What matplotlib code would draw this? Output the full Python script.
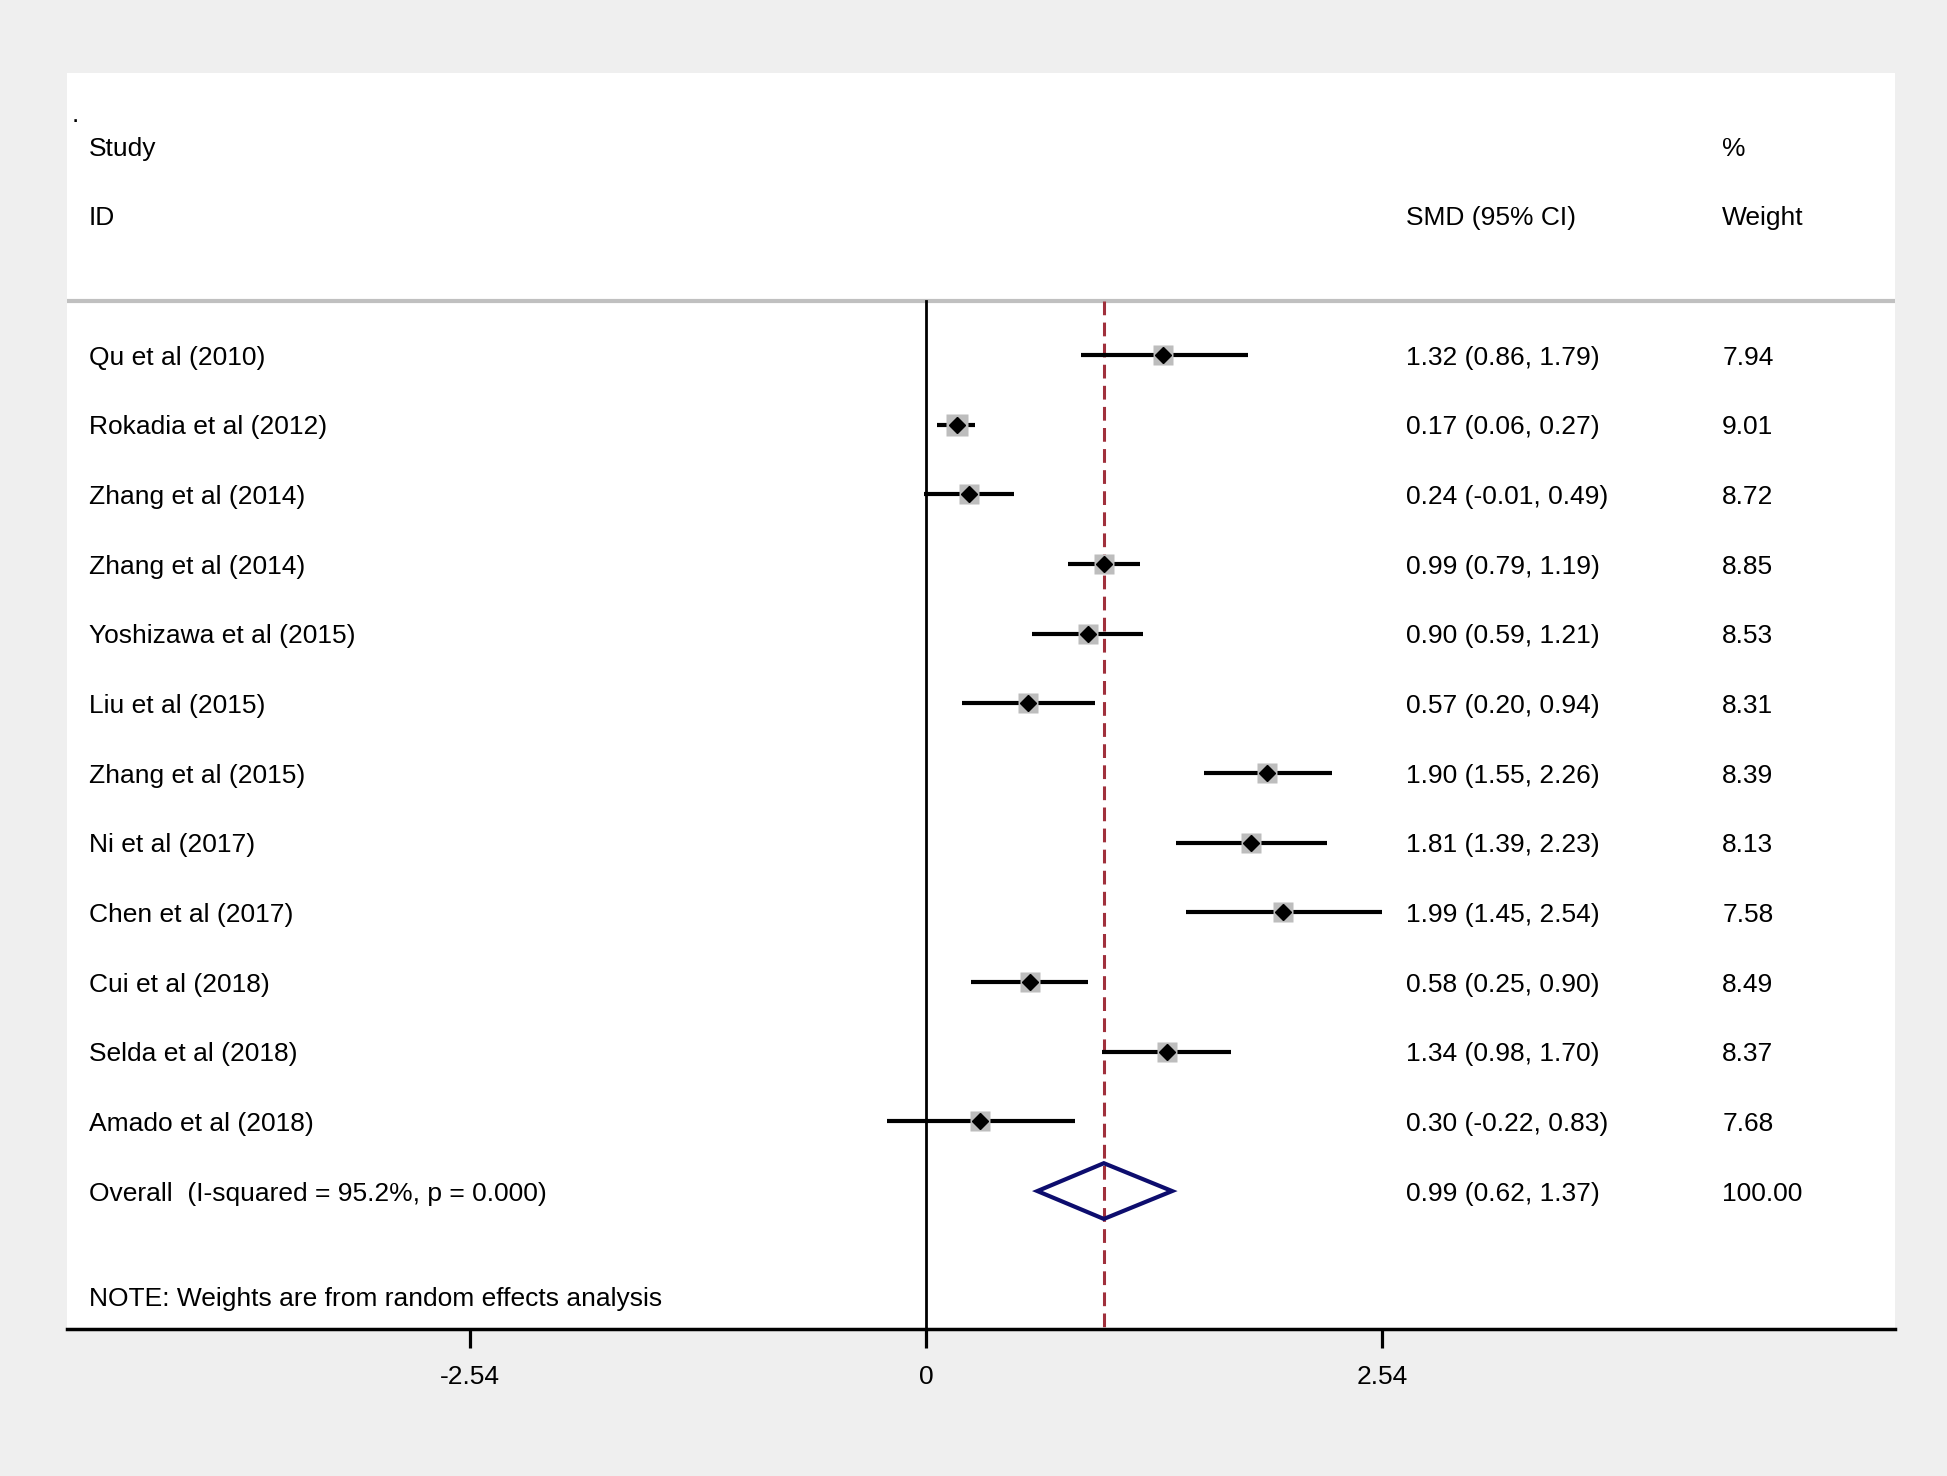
import numpy as np
import matplotlib
matplotlib.use("Agg")
import matplotlib.pyplot as plt
from matplotlib.patches import Polygon

# ── Data ──────────────────────────────────────────────────────────────────────
studies = [
    "Qu et al (2010)", "Rokadia et al (2012)", "Zhang et al (2014)",
    "Zhang et al (2014)", "Yoshizawa et al (2015)", "Liu et al (2015)",
    "Zhang et al (2015)", "Ni et al (2017)", "Chen et al (2017)",
    "Cui et al (2018)", "Selda et al (2018)", "Amado et al (2018)",
]
smd     = [1.32, 0.17, 0.24, 0.99, 0.90, 0.57, 1.90, 1.81, 1.99, 0.58, 1.34, 0.30]
ci_low  = [0.86, 0.06, -0.01, 0.79, 0.59, 0.20, 1.55, 1.39, 1.45, 0.25, 0.98, -0.22]
ci_high = [1.79, 0.27, 0.49, 1.19, 1.21, 0.94, 2.26, 2.23, 2.54, 0.90, 1.70, 0.83]
weights = [7.94, 9.01, 8.72, 8.85, 8.53, 8.31, 8.39, 8.13, 7.58, 8.49, 8.37, 7.68]

overall_label = "Overall  (I-squared = 95.2%, p = 0.000)"
overall_est, overall_low, overall_high = 0.99, 0.62, 1.37
note = "NOTE: Weights are from random effects analysis"
xticks = [-2.54, 0, 2.54]

# ── Layout ────────────────────────────────────────────────────────────────────
plt.rcParams["font.family"] = ["Liberation Sans", "DejaVu Sans"]
FS = 19
DY = 0.035  # small nudge so text sits like Stata's
W, H = 1947, 1476
fig = plt.figure(figsize=(W / 100, H / 100), dpi=100, facecolor="#efefef")
ax = fig.add_axes([67 / W, 1 - 1329 / H, (1895 - 67) / W, (1329 - 73) / H])
ax.set_facecolor("white")

ax.set_xlim(-4.783, 5.395)
ax.set_ylim(14.98, -3.05)

x_lab, x_smd, x_wt = -4.66, 2.672, 4.433
n = len(studies)
rows = np.arange(1, n + 1)

def put(x, y, s):
    ax.text(x, y + DY, s, fontsize=FS, va="center", ha="left")

# header
ax.text(-4.757, -2.35, ".", fontsize=FS, va="baseline", ha="left")
put(x_lab, -2.0, "Study")
put(x_lab, -1.0, "ID")
put(x_smd, -1.0, "SMD (95% CI)")
put(x_wt, -2.0, "%")
put(x_wt, -1.0, "Weight")
ax.axhline(0.216, color="#c0c0c0", lw=3, zorder=1)

# reference lines
ax.plot([0, 0], [0.216, 14.98], color="black", lw=2, zorder=2)
ax.plot([overall_est, overall_est], [0.216, 14.98], color="#a0303c", lw=2.2,
        dashes=(4.5, 2.4), zorder=2)

# studies
for i, y in enumerate(rows):
    ax.plot([ci_low[i], ci_high[i]], [y, y], color="black", lw=3,
            solid_capstyle="butt", zorder=3)
    ax.plot(smd[i], y, marker="s", ms=14.8 * np.sqrt(weights[i] / 8.5),
            color="#bdbdbd", mec="none", zorder=3)
    ax.plot(smd[i], y, marker="D", ms=8, color="black", zorder=4)
    put(x_lab, y, studies[i])
    put(x_smd, y, f"{smd[i]:.2f} ({ci_low[i]:.2f}, {ci_high[i]:.2f})")
    put(x_wt, y, f"{weights[i]:.2f}")

# overall
yo = n + 1
diamond = Polygon([[overall_low, yo], [overall_est, yo - 0.4],
                   [overall_high, yo], [overall_est, yo + 0.4]],
                  closed=True, fill=False, edgecolor="#0d0d6e", lw=3,
                  joinstyle="miter", zorder=5)
ax.add_patch(diamond)
put(x_lab, yo, overall_label)
put(x_smd, yo, f"{overall_est:.2f} ({overall_low:.2f}, {overall_high:.2f})")
put(x_wt, yo, "100.00")
put(x_lab, 14.51, note)

# axes
for s in ["top", "left", "right"]:
    ax.spines[s].set_visible(False)
ax.spines["bottom"].set_linewidth(2.5)
ax.set_yticks([])
ax.set_xticks(xticks)
ax.set_xticklabels(["-2.54", "0", "2.54"])
ax.tick_params(axis="x", length=14, width=2.3, pad=12, labelsize=FS)

fig.savefig("out.png", dpi=100, facecolor=fig.get_facecolor())
